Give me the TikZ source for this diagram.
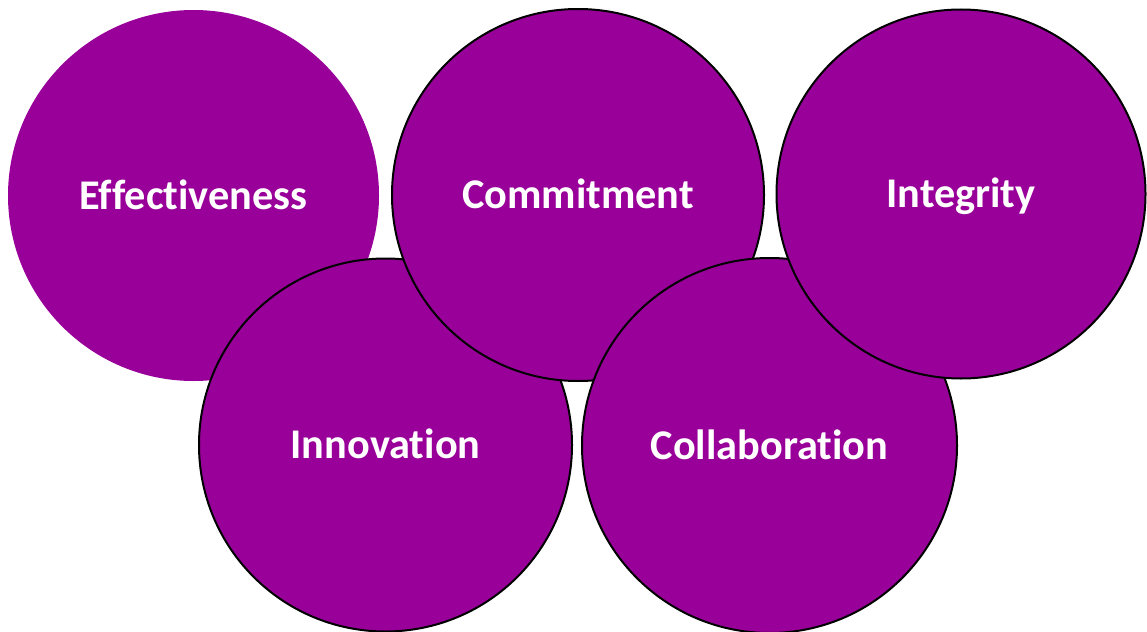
\documentclass[tikz,border=0pt]{standalone}
\usepackage{fontspec}
\setmainfont{Carlito}[Ligatures={NoCommon}]
\definecolor{valpurple}{RGB}{153,0,153}
\tikzset{
  valcircle/.style={circle, fill=valpurple, draw=black, line width=2pt,
    inner sep=0pt, text=white, font=\fontsize{42.3}{50}\selectfont\bfseries,
    text height=27pt, text depth=0pt},
  noline/.style={draw=none}
}
\begin{document}
\begin{tikzpicture}[x=1pt,y=-1pt]
\useasboundingbox (0,0) rectangle (1147,631);
\node[valcircle, noline, minimum size=371pt] (eff) at (193.5,195.5) {Effectiveness};
\node[valcircle, minimum size=373pt] (inn) at (385.5,445) {Innovation};
\node[valcircle, minimum size=372pt] (com) at (578,195) {Commitment};
\node[valcircle, minimum size=375pt] (col) at (769.5,445.5) {Collaboration};
\node[valcircle, minimum size=369pt] (int) at (961,194) {Integrity};
\end{tikzpicture}
\end{document}
